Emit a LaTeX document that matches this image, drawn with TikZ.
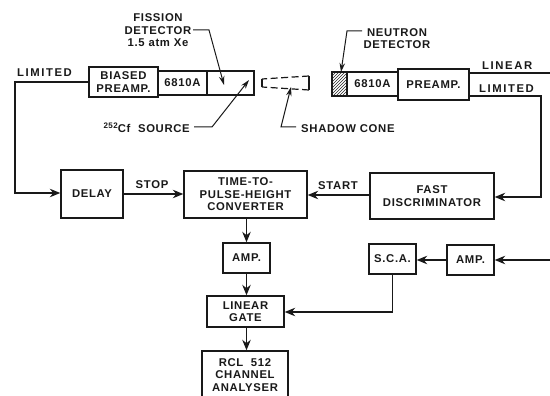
\documentclass[tikz,border=0pt]{standalone}
\usepackage{fontspec}
\setmainfont{Liberation Sans}[LetterSpace=6]
\newfontfamily\widefont{Liberation Sans}[LetterSpace=14]
\usetikzlibrary{arrows.meta,patterns}
\tikzset{
  lbl/.style={font=\fontsize{11.3}{12.6}\selectfont\bfseries,align=center,inner sep=0pt,text=black!90},
  blk/.style={draw=black!90,line width=1.4pt,lbl,inner sep=0pt,minimum width=#1},
  blk/.default=50pt,
  con/.style={draw=black!90,line width=1.2pt},
  arr/.style={con,-{Stealth[length=10.5pt,width=8.5pt]}},
  lead/.style={draw=black!90,line width=1pt,-{Stealth[length=9pt,width=5.5pt]}},
}
\begin{document}
\begin{tikzpicture}[x=1pt,y=-1pt]
\useasboundingbox (0,0) rectangle (550,396);
% upper left chain
\node[blk=69pt,minimum height=30pt] (bp) at (123.5,82) {BIASED\\PREAMP.};
\node[blk=49pt,minimum height=24pt] (a1) at (182.5,83) {6810A};
\node[blk=47pt,minimum height=24pt] (fd) at (230.5,83) {};
% upper right chain
\node[draw=black!90,line width=1.4pt,pattern=north east lines,pattern color=black!85,minimum width=15pt,minimum height=24pt,inner sep=0pt] (nd) at (339.5,84) {};
\node[blk=51pt,minimum height=24pt] (a2) at (372.5,84) {6810A};
\node[blk=71pt,minimum height=31pt] (pa) at (433.5,84.5) {PREAMP.};
% middle row
\node[blk=62pt,minimum height=48pt] (delay) at (92,194) {DELAY};
\node[blk=123pt,minimum height=47pt] (tph) at (245.5,194.5) {TIME-TO-\\PULSE-HEIGHT\\CONVERTER};
\node[blk=124pt,minimum height=46pt] (fast) at (432,196) {FAST\\DISCRIMINATOR};
% lower
\node[blk=47pt,minimum height=30pt] (amp1) at (246.5,258) {AMP.};
\node[blk=77pt,minimum height=31pt] (gate) at (245.5,311.5) {LINEAR\\GATE};
\node[blk=47pt,minimum height=30pt] (sca) at (392.5,259) {S.C.A.};
\node[blk=47pt,minimum height=30pt] (amp2) at (470.5,260) {AMP.};
% channel analyser, open at the bottom edge
\node[blk=86pt,minimum height=48pt] (rcl) at (245,375) {RCL\ \ 512\\CHANNEL\\ANALYSER};
% free ends
\coordinate (lin) at (550,73);
\coordinate (limr) at (541,96);
\coordinate (liml) at (15,82);
\coordinate (ampin) at (550,260);
% connectors
\draw[arr] (bp.west) -- (liml) -- (15,193) -- (delay.west |- 0,193);
\draw[arr] (delay.east |- 0,194) -- (tph.west |- 0,194);
\draw[arr] (fast.west |- 0,195) -- (tph.east |- 0,195);
\draw[con] (pa.east |- lin) -- (lin);
\draw[arr] (pa.east |- limr) -- (limr) -- (541,197) -- (fast.east |- 0,197);
\draw[arr] (tph.south -| amp1) -- (amp1.north);
\draw[arr] (amp1.south) -- (gate.north -| amp1);
\draw[arr] (gate.south -| amp1) -- (rcl.north -| amp1);
\draw[arr] (ampin) -- (amp2.east);
\draw[arr] (amp2.west) -- (sca.east |- amp2);
\draw[arr] (sca.south) -- (392.5,312) -- (gate.east |- 0,312);
% line labels
\node[lbl,anchor=west] (tlim) at (17,72.5) {\widefont LIMITED};
\node[lbl] (tstop) at (152,185) {STOP};
\node[lbl] (tstart) at (338,186) {START};
\node[lbl,anchor=west] (tlinr) at (482,66) {\widefont LINEAR};
\node[lbl,anchor=west] (tlimr) at (479,88.5) {\widefont LIMITED};
% annotations
\node[lbl] (tfis) at (158,30.5) {FISSION\\DETECTOR\\1.5 atm Xe};
\node[lbl] (tneu) at (397,38.5) {NEUTRON\\DETECTOR};
\node[lbl,anchor=east] (tsrc) at (190,127.5) {\raisebox{4pt}{\fontsize{8}{9}\selectfont 252}Cf\ \ SOURCE};
\node[lbl,anchor=west] (tsha) at (301,128.5) {SHADOW CONE};
\coordinate (fdtip) at (224,85);
\coordinate (srctip) at (249,80);
\coordinate (ndtip) at (341,72);
\coordinate (shatip) at (291,87);
\draw[lead] (193,30) -- (209,30) -- (fdtip);
\draw[lead] (194,127) -- (212,127) -- (srctip);
\draw[lead] (362,31) -- (347,31) -- (ndtip);
\draw[lead] (296,127) -- (281,127) -- (shatip);
% shadow cone
\draw[con] (309,76) -- (309,90);
\draw[con,dash pattern=on 7pt off 3.5pt] (309,76) -- (262,79);
\draw[con,dash pattern=on 7pt off 3.5pt] (309,90) -- (262,87);
\draw[con] (262,79) -- (262,87);
\end{tikzpicture}
\end{document}
